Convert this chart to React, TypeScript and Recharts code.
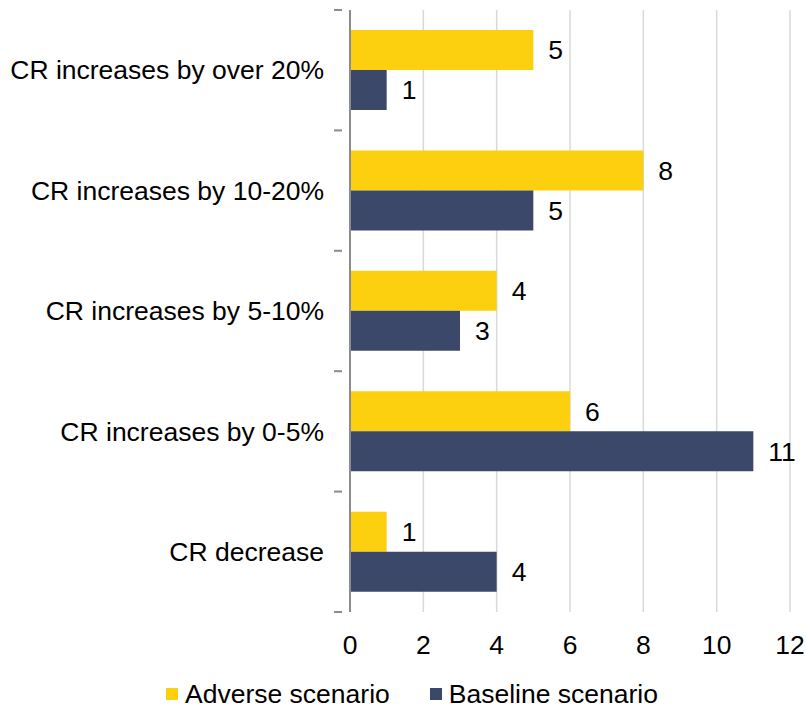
import {
  BarChart,
  Bar,
  XAxis,
  YAxis,
  CartesianGrid,
  Legend,
  LabelList,
} from "recharts";

const categories = [
  "CR increases by over 20%",
  "CR increases by 10-20%",
  "CR increases by 5-10%",
  "CR increases by 0-5%",
  "CR decrease",
];
const adverse = [5, 8, 4, 6, 1];
const baseline = [1, 5, 3, 11, 4];
const xTicks = [0, 2, 4, 6, 8, 10, 12];

const data = categories.map((name, i) => ({
  name,
  adverse: adverse[i],
  baseline: baseline[i],
}));

const FONT = "'Liberation Sans', Arial, sans-serif";
const FS = 26.5;
const YELLOW = "#FCD00E";
const NAVY = "#3B4869";
const AXIS = "#8c8c8c";

const W = 806;
const H = 709;
const TOP = 10;
const PLOT_BOTTOM = 612;
const LEGEND_H = 42;
const BAND = (PLOT_BOTTOM - TOP) / categories.length;

function CategoryTick({ x, y, payload, index }: any) {
  const last = index === categories.length - 1;
  return (
    <g>
      <line x1={x - 8} x2={x} y1={y - BAND / 2} y2={y - BAND / 2} stroke={AXIS} strokeWidth={2} />
      {last && (
        <line x1={x - 8} x2={x} y1={y + BAND / 2} y2={y + BAND / 2} stroke={AXIS} strokeWidth={2} />
      )}
      <text x={x - 18} y={y} dy="0.35em" textAnchor="end" fontSize={FS} fill="#000" fontFamily={FONT}>
        {payload.value}
      </text>
    </g>
  );
}

function LegendBox() {
  const items = [
    { label: "Adverse scenario", color: YELLOW },
    { label: "Baseline scenario", color: NAVY },
  ];
  return (
    <div
      style={{
        height: LEGEND_H,
        display: "flex",
        alignItems: "flex-end",
        justifyContent: "center",
        paddingLeft: 34,
        paddingBottom: 2,
        boxSizing: "border-box",
        fontFamily: FONT,
        fontSize: FS,
        color: "#000",
        lineHeight: "26px",
      }}
    >
      {items.map((it, i) => (
        <div key={it.label} style={{ display: "flex", alignItems: "center", marginLeft: i ? 40 : 0 }}>
          <span style={{ width: 12, height: 12, background: it.color, display: "inline-block", marginRight: 7 }} />
          <span>{it.label}</span>
        </div>
      ))}
    </div>
  );
}

export default function App() {
  return (
    <div style={{ position: "absolute", left: 0, top: 0, width: W, height: H, background: "#fff" }}>
      <BarChart
        width={W}
        height={H}
        data={data}
        layout="vertical"
        margin={{ top: TOP, right: 16, left: 0, bottom: 0 }}
        barCategoryGap="16.67%"
        barGap={0}
      >
        <CartesianGrid horizontal={false} stroke="#d9d9d9" strokeWidth={1.5} />
        <XAxis
          type="number"
          domain={[0, 12]}
          ticks={xTicks}
          axisLine={false}
          tickLine={false}
          tickMargin={17}
          height={H - PLOT_BOTTOM - LEGEND_H}
          tick={{ fontSize: FS, fill: "#000", fontFamily: FONT }}
        />
        <YAxis
          type="category"
          dataKey="name"
          width={350}
          axisLine={{ stroke: AXIS, strokeWidth: 2 }}
          tickLine={false}
          tick={<CategoryTick />}
          interval={0}
        />
        <Legend verticalAlign="bottom" content={<LegendBox />} />
        <Bar dataKey="adverse" name="Adverse scenario" fill={YELLOW} isAnimationActive={false}>
          <LabelList dataKey="adverse" position="right" offset={15} fill="#000" fontSize={FS} fontFamily={FONT} />
        </Bar>
        <Bar dataKey="baseline" name="Baseline scenario" fill={NAVY} isAnimationActive={false}>
          <LabelList dataKey="baseline" position="right" offset={15} fill="#000" fontSize={FS} fontFamily={FONT} />
        </Bar>
      </BarChart>
    </div>
  );
}
